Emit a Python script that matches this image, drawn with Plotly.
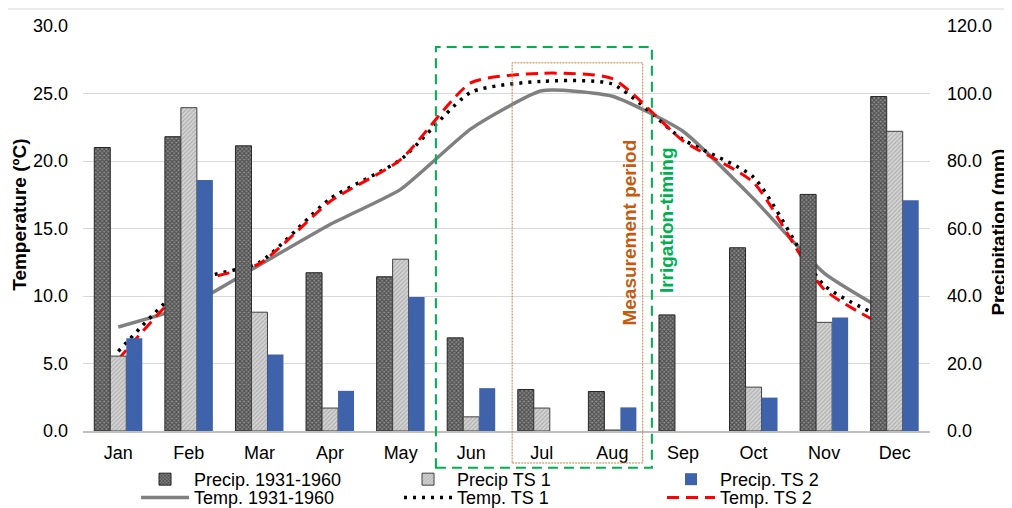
import plotly.graph_objects as go

months = ["Jan", "Feb", "Mar", "Apr", "May", "Jun", "Jul", "Aug", "Sep", "Oct", "Nov", "Dec"]

precip_1931 = [84.0, 87.2, 84.5, 46.9, 45.7, 27.6, 12.3, 11.7, 34.4, 54.3, 70.1, 99.1]
precip_ts1 = [22.2, 95.8, 35.2, 6.8, 50.9, 4.2, 6.8, 0.3, None, 13.0, 32.2, 88.8]
precip_ts2 = [27.5, 74.4, 22.7, 11.9, 39.7, 12.7, None, 7.0, None, 9.9, 33.6, 68.4]

temp_1931 = [7.7, 9.3, 12.3, 15.3, 17.9, 22.4, 25.2, 24.8, 22.2, 17.2, 11.7, 8.5]
temp_ts1 = [5.9, 11.0, 12.5, 17.2, 20.1, 25.1, 25.9, 25.7, 21.6, 18.8, 10.8, 8.0]
temp_ts2 = [5.3, 10.8, 12.4, 17.0, 20.1, 25.8, 26.5, 26.1, 21.5, 18.4, 10.5, 7.4]

left_ticks = [0, 5, 10, 15, 20, 25, 30]
right_ticks = [0, 20, 40, 60, 80, 100, 120]

FONT = "Liberation Sans, Arial, sans-serif"

fig = go.Figure()

fig.add_trace(go.Bar(
    x=months, y=precip_1931, name="Precip. 1931-1960", yaxis="y2", legend="legend",
    marker=dict(color="#777777", line=dict(color="#262626", width=1),
                pattern=dict(shape="x", fgcolor="#111111", bgcolor="#8c8c8c", size=3, solidity=0.6)),
))
fig.add_trace(go.Bar(
    x=months, y=precip_ts1, name="Precip TS 1", yaxis="y2", legend="legend",
    marker=dict(color="#c8c8c8", line=dict(color="#404040", width=1),
                pattern=dict(shape="/", fgcolor="#8a8a8a", bgcolor="#d4d4d4", size=3, solidity=0.4)),
))
fig.add_trace(go.Bar(
    x=months, y=precip_ts2, name="Precip. TS 2", yaxis="y2", legend="legend",
    marker=dict(color="#3f63ab", line=dict(width=0)),
))

fig.add_trace(go.Scatter(
    x=months, y=temp_1931, name="Temp. 1931-1960", mode="lines", legend="legend2",
    line=dict(color="#808080", width=3.5, shape="spline", smoothing=0.5),
))
fig.add_trace(go.Scatter(
    x=months, y=temp_ts1, name="Temp. TS 1", mode="lines", legend="legend2",
    line=dict(color="#000000", width=3.5, dash="3px,6px", shape="spline", smoothing=0.6),
))
fig.add_trace(go.Scatter(
    x=months, y=temp_ts2, name="Temp. TS 2", mode="lines", legend="legend2",
    line=dict(color="#ff0000", width=3, dash="12px,7px", shape="spline", smoothing=0.6),
))

leg_common = dict(orientation="h", xanchor="left", yanchor="top",
                  font=dict(size=18), entrywidth=200, entrywidthmode="pixels",
                  itemwidth=48, bgcolor="rgba(0,0,0,0)", traceorder="normal")

fig.update_layout(
    width=1012, height=508,
    margin=dict(l=75, r=90, t=18, b=85, autoexpand=False),
    paper_bgcolor="white", plot_bgcolor="white",
    font=dict(family=FONT, size=18, color="#000000"),
    barmode="group", bargap=0.32, bargroupgap=0,
    showlegend=True,
    legend=dict(x=0.0626, y=-0.074, **leg_common),
    legend2=dict(x=0.0626, y=-0.119, **leg_common),
    xaxis=dict(type="category", showgrid=False, showline=True, linecolor="#bfbfbf", linewidth=2,
               ticks="", ticklabelstandoff=4, tickfont=dict(size=18), range=[-0.5, 11.5]),
    yaxis=dict(range=[0, 30], tickvals=left_ticks, ticktext=[f"{v:.1f}" for v in left_ticks],
               showgrid=True, gridcolor="#d9d9d9", gridwidth=1, zeroline=False, showline=False,
               ticks="", ticklabelstandoff=14, tickfont=dict(size=18)),
    yaxis2=dict(range=[0, 120], tickvals=right_ticks, ticktext=[f"{v:.1f}" for v in right_ticks],
                overlaying="y", side="right", showgrid=False, zeroline=False, showline=False,
                ticks="", ticklabelstandoff=16, tickfont=dict(size=18)),
)

# Chart border top line
fig.add_shape(type="line", xref="paper", yref="paper", x0=-0.093, x1=1.097, y0=1.042, y1=1.042,
              line=dict(color="#d9d9d9", width=1))

# Irrigation-timing window (green dashed)
fig.add_shape(type="rect", xref="x", yref="paper", x0=4.5, x1=7.56, y0=-0.091, y1=0.948,
              line=dict(color="#00b050", width=2, dash="10px,6px"), fillcolor="rgba(0,0,0,0)", layer="above")
# Measurement period (brown dotted)
fig.add_shape(type="rect", xref="x", yref="paper", x0=5.58, x1=7.43, y0=-0.079, y1=0.909,
              line=dict(color="#c0804a", width=1, dash="2px,1px"), fillcolor="rgba(0,0,0,0)", layer="above")

fig.add_annotation(text="<b>Measurement period</b>", xref="x", yref="paper", x=7.25, y=0.49,
                   xanchor="center", yanchor="middle",
                   textangle=-90, showarrow=False, font=dict(size=19, color="#c55a11"))
fig.add_annotation(text="<b>Irrigation-timing</b>", xref="x", yref="paper", x=7.77, y=0.52,
                   xanchor="center", yanchor="middle",
                   textangle=-90, showarrow=False, font=dict(size=19, color="#00b050"))

fig.add_annotation(text="<b>Temperature (ºC)</b>", xref="paper", yref="paper", x=-0.075, y=0.535,
                   xanchor="center", yanchor="middle",
                   textangle=-90, showarrow=False, font=dict(size=19))
fig.add_annotation(text="<b>Precipitation (mm)</b>", xref="paper", yref="paper", x=1.0815, y=0.49,
                   xanchor="center", yanchor="middle",
                   textangle=-90, showarrow=False, font=dict(size=19))

fig.write_html("out.html")
